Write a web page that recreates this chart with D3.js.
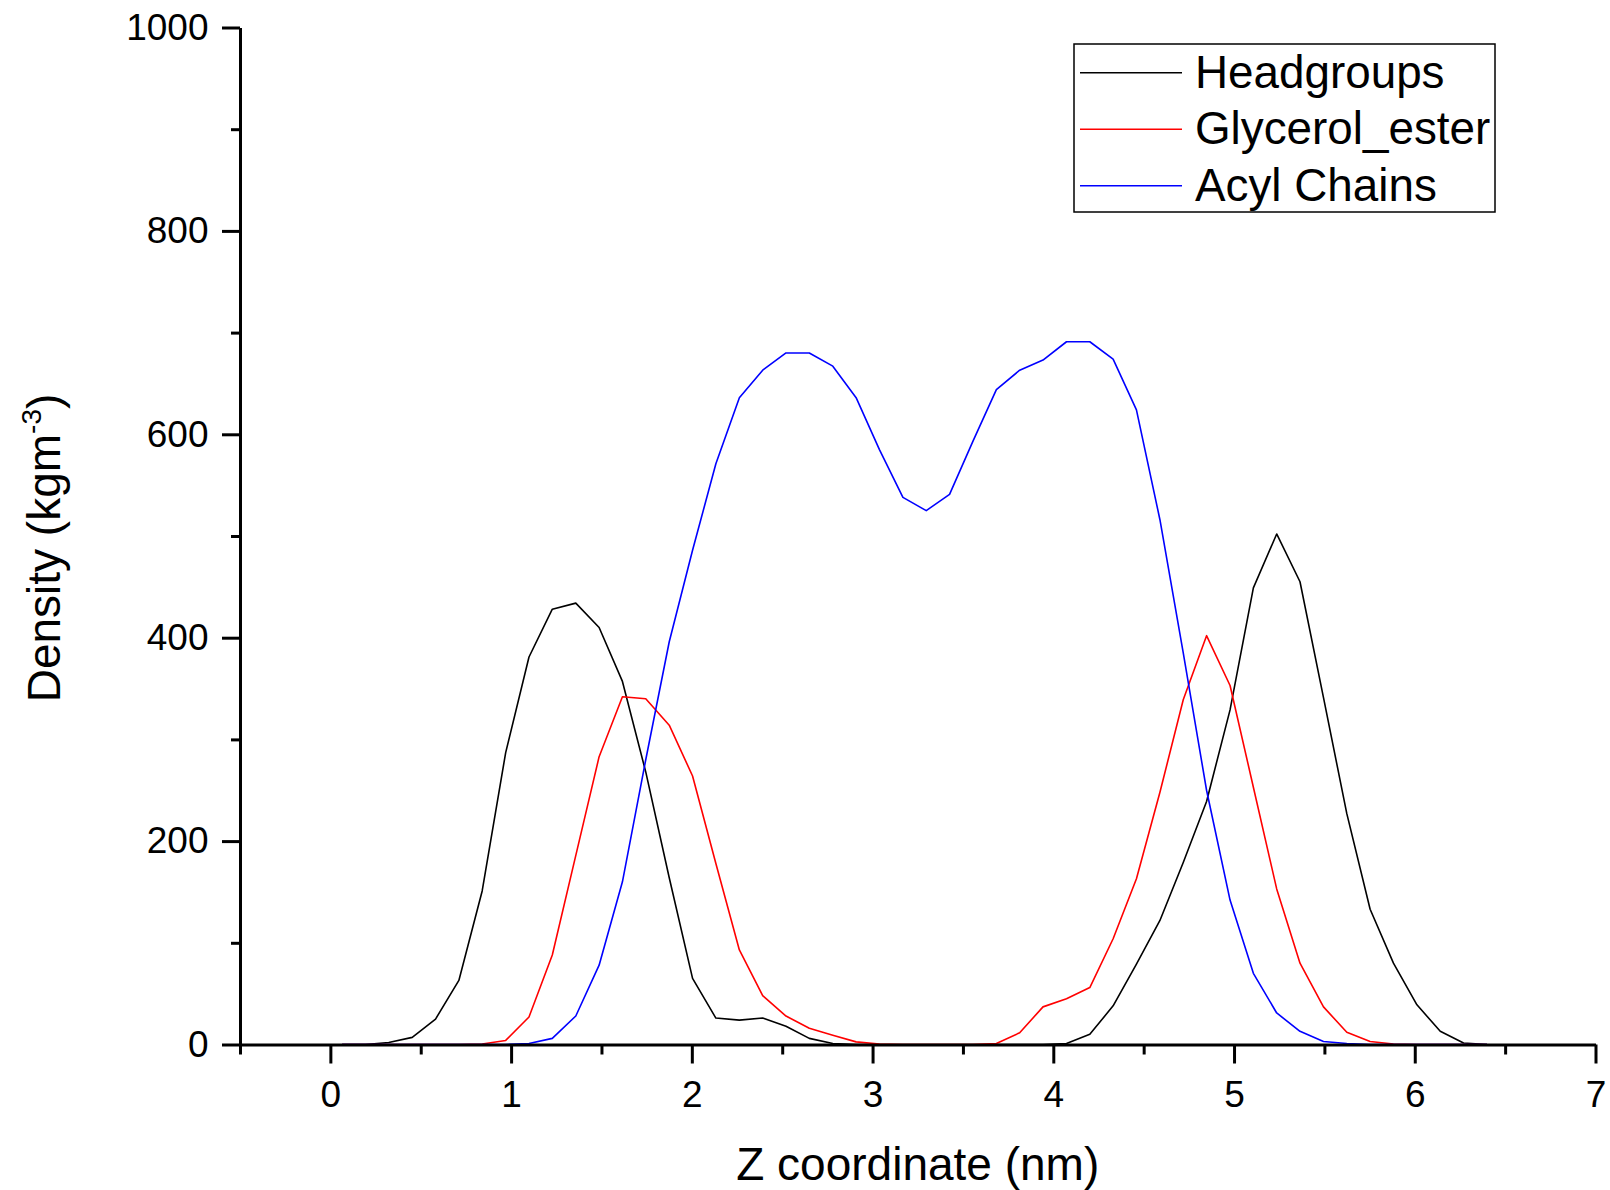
<!DOCTYPE html>
<html>
<head>
<meta charset="utf-8">
<script src="https://cdn.jsdelivr.net/npm/d3@7"></script>
<style>
  body { margin: 0; background: #fff; }
  text { font-family: "Liberation Sans", Arial, sans-serif; fill: #000; }
</style>
</head>
<body>
<script>
// Density profiles along Z for the three lipid groups

// bin centres (nm)
const zCoord = [0.065, 0.194, 0.323, 0.453, 0.582, 0.711, 0.840, 0.970, 1.099, 1.228,
                1.358, 1.487, 1.616, 1.745, 1.875, 2.004, 2.133, 2.263, 2.392, 2.521,
                2.650, 2.780, 2.909, 3.038, 3.168, 3.297, 3.426, 3.555, 3.685, 3.814,
                3.943, 4.073, 4.202, 4.331, 4.460, 4.590, 4.719, 4.848, 4.978, 5.107,
                5.236, 5.365, 5.495, 5.624, 5.753, 5.882, 6.012, 6.141, 6.270, 6.400];

const headgroups = [0, 0, 2, 7, 25, 63, 151, 287, 381, 428,
                    434, 410, 357, 268, 164, 65, 26, 24, 26, 18,
                    6, 1, 0, 0, 0, 0, 0, 0, 0, 0,
                    0, 1, 10, 38, 79, 122, 179, 239, 329, 449,
                    502, 455, 341, 227, 133, 80, 39, 13, 1.5, 0];

const glycerolEster = [0, 0, 0, 0, 0, 0, 0.5, 4, 27, 88,
                       186, 283, 342, 340, 314, 264, 178, 93, 48, 28,
                       16, 9, 2.6, 0.5, 0, 0, 0, 0, 1, 11.5,
                       37, 45, 56, 104, 163, 248, 339, 402, 353, 253,
                       153, 80, 37, 12, 3, 0.5, 0, 0, 0, 0];

const acylChains = [0, 0, 0, 0, 0, 0, 0, 0, 1, 6,
                    28, 78, 160, 280, 396, 486, 571, 636, 663, 680,
                    680, 667, 636, 585, 538, 525, 541, 593, 644, 663,
                    673, 691, 691, 674, 624, 516, 385, 250, 142, 70,
                    31, 13, 3, 1, 0, 0, 0, 0, 0, 0];

const seriesNames = ["Headgroups", "Glycerol_ester", "Acyl Chains"];
const seriesColors = ["#000000", "#ff0000", "#0000ff"];

const xMajorTicks = [0, 1, 2, 3, 4, 5, 6, 7];
const xMinorTicks = [-0.5, 0.5, 1.5, 2.5, 3.5, 4.5, 5.5, 6.5];
const yMajorTicks = [0, 200, 400, 600, 800, 1000];
const yMinorTicks = [100, 300, 500, 700, 900];

document.addEventListener('DOMContentLoaded', function() {
    const width = 1610, height = 1190;

    const svg = d3.select("body").append("svg")
        .attr("width", width)
        .attr("height", height);

    const x = d3.scaleLinear().domain([-0.5, 7]).range([240, 1595.5]);
    const y = d3.scaleLinear().domain([0, 1000]).range([1044.5, 27.5]);

    // curves
    const allSeries = [headgroups, glycerolEster, acylChains];
    const line = d3.line()
        .x((d, i) => x(zCoord[i]))
        .y(d => y(d));

    svg.selectAll(".curve")
        .data(allSeries)
        .enter().append("path")
        .attr("class", "curve")
        .attr("d", d => line(d))
        .attr("fill", "none")
        .attr("stroke", (d, i) => seriesColors[i])
        .attr("stroke-width", 1.6)
        .attr("stroke-linejoin", "round");

    // x axis: major + minor ticks
    svg.append("g")
        .attr("transform", `translate(0,${y(0)})`)
        .call(d3.axisBottom(x).tickValues(xMajorTicks).tickSize(19).tickSizeOuter(0)
            .tickPadding(17).tickFormat(d3.format("d")));
    svg.append("g")
        .attr("transform", `translate(0,${y(0)})`)
        .call(d3.axisBottom(x).tickValues(xMinorTicks).tickSize(10).tickFormat(""))
        .call(g => g.select(".domain").remove());

    // y axis: major + minor ticks
    svg.append("g")
        .attr("transform", `translate(${x(-0.5)},0)`)
        .call(d3.axisLeft(y).tickValues(yMajorTicks).tickSize(18).tickSizeOuter(0)
            .tickPadding(13.5).tickFormat(d3.format("d")));
    svg.append("g")
        .attr("transform", `translate(${x(-0.5)},0)`)
        .call(d3.axisLeft(y).tickValues(yMinorTicks).tickSize(9).tickFormat(""))
        .call(g => g.select(".domain").remove());

    svg.selectAll(".domain, .tick line")
        .attr("stroke", "#000")
        .attr("stroke-width", 3);
    svg.selectAll(".tick text")
        .style("font-size", "37px")
        .style("font-family", '"Liberation Sans", Arial, sans-serif');

    // axis titles
    svg.append("text")
        .attr("x", (x(-0.5) + x(7)) / 2)
        .attr("y", 1180)
        .attr("text-anchor", "middle")
        .style("font-size", "46px")
        .text("Z coordinate (nm)");

    const yTitle = svg.append("text")
        .attr("transform", "translate(59.5,548) rotate(-90)")
        .attr("text-anchor", "middle")
        .style("font-size", "46px");
    yTitle.append("tspan").text("Density (kgm");
    yTitle.append("tspan").attr("dy", -19).style("font-size", "28px").text("-3");
    yTitle.append("tspan").attr("dy", 19).text(")");

    // legend
    const legend = svg.append("g");
    legend.append("rect")
        .attr("x", 1074).attr("y", 44)
        .attr("width", 421).attr("height", 168)
        .attr("fill", "#fff")
        .attr("stroke", "#000")
        .attr("stroke-width", 1.5);

    const rows = legend.selectAll(".row")
        .data(seriesNames)
        .enter().append("g")
        .attr("class", "row")
        .attr("transform", (d, i) => `translate(0,${72.7 + i * 56.5})`);
    rows.append("line")
        .attr("x1", 1080).attr("x2", 1182)
        .attr("stroke", (d, i) => seriesColors[i])
        .attr("stroke-width", 1.6);
    rows.append("text")
        .attr("x", 1195)
        .attr("y", 15)
        .style("font-size", "45.8px")
        .text(d => d);
});
</script>
</body>
</html>
